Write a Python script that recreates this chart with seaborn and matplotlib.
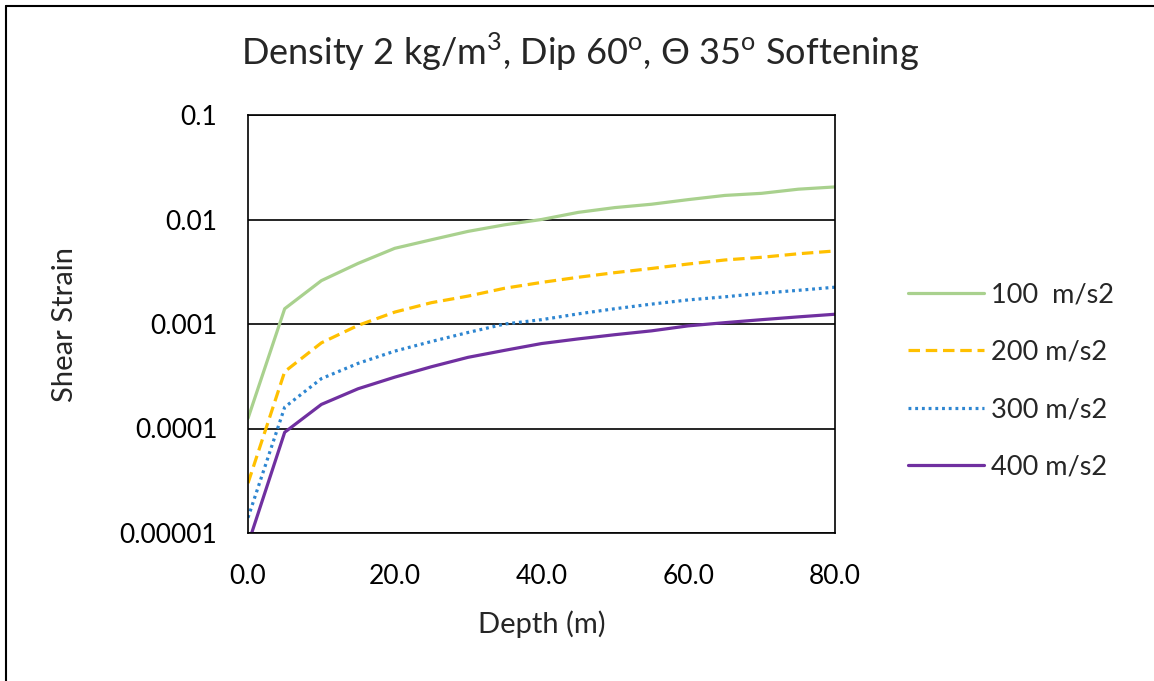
import numpy as np
import pandas as pd
import matplotlib
matplotlib.use("Agg")
import matplotlib.pyplot as plt
import seaborn as sns
from matplotlib.ticker import FixedLocator, FixedFormatter, NullLocator
from matplotlib.lines import Line2D

# Depth samples (m)
depth = [0, 5, 10, 15, 20, 25, 30, 35, 40, 45, 50, 55, 60, 65, 70, 75, 80]

# Shear strain for each acceleration level
strain_100 = [1.25e-4, 1.4e-3, 2.6e-3, 3.8e-3, 5.3e-3, 6.4e-3, 7.7e-3, 8.9e-3, 1.0e-2,
              1.17e-2, 1.3e-2, 1.4e-2, 1.55e-2, 1.7e-2, 1.78e-2, 1.95e-2, 2.05e-2]
strain_200 = [3.0e-5, 3.5e-4, 6.6e-4, 9.7e-4, 1.3e-3, 1.6e-3, 1.85e-3, 2.2e-3, 2.5e-3,
              2.8e-3, 3.1e-3, 3.4e-3, 3.75e-3, 4.1e-3, 4.35e-3, 4.7e-3, 5.0e-3]
strain_300 = [1.4e-5, 1.6e-4, 3.0e-4, 4.2e-4, 5.5e-4, 6.8e-4, 8.3e-4, 1.0e-3, 1.1e-3,
              1.25e-3, 1.4e-3, 1.55e-3, 1.7e-3, 1.82e-3, 1.97e-3, 2.1e-3, 2.25e-3]
strain_400 = [7.8e-6, 9.2e-5, 1.7e-4, 2.4e-4, 3.1e-4, 3.9e-4, 4.8e-4, 5.6e-4, 6.5e-4,
              7.2e-4, 7.9e-4, 8.6e-4, 9.6e-4, 1.03e-3, 1.1e-3, 1.17e-3, 1.24e-3]

series_labels = ["100  m/s2", "200 m/s2", "300 m/s2", "400 m/s2"]
y_ticks = [1e-5, 1e-4, 1e-3, 1e-2, 1e-1]
y_tick_labels = ["0.00001", "0.0001", "0.001", "0.01", "0.1"]
x_ticks = [0, 20, 40, 60, 80]
x_tick_labels = ["0.0", "20.0", "40.0", "60.0", "80.0"]

sns.set_style("white")
plt.rcParams["font.family"] = ["Lato", "DejaVu Sans"]
plt.rcParams["mathtext.fontset"] = "custom"
plt.rcParams["mathtext.rm"] = "Lato"

fig = plt.figure(figsize=(11.54, 6.81), dpi=100)
ax = fig.add_axes([248 / 1154, 1 - 533 / 681, 587 / 1154, 418 / 681])

styles = [
    dict(color="#A9D18E", linestyle="-"),
    dict(color="#FFC000", linestyle=(0, (3.6, 1.8))),
    dict(color="#2E86D1", linestyle=(0, (0.9, 1.2))),
    dict(color="#7030A0", linestyle="-"),
]
all_series = [strain_100, strain_200, strain_300, strain_400]

for vals, lab, st in zip(all_series, series_labels, styles):
    df = pd.DataFrame({"Depth": depth, "Strain": vals})
    sns.lineplot(data=df, x="Depth", y="Strain", ax=ax, color=st["color"],
                 linestyle=st["linestyle"], linewidth=2.3, legend=False)

ax.set_yscale("log")
ax.set_xlim(0, 80)
ax.set_ylim(1e-5, 1e-1)
ax.yaxis.set_major_locator(FixedLocator(y_ticks))
ax.yaxis.set_major_formatter(FixedFormatter(y_tick_labels))
ax.yaxis.set_minor_locator(NullLocator())
ax.xaxis.set_major_locator(FixedLocator(x_ticks))
ax.xaxis.set_major_formatter(FixedFormatter(x_tick_labels))
ax.tick_params(axis="both", length=0, labelsize=19, colors="#000000")
ax.tick_params(axis="y", pad=22)
ax.tick_params(axis="x", pad=22)

ax.yaxis.grid(True, color="black", linewidth=1.2)
ax.set_axisbelow(True)
for sp in ax.spines.values():
    sp.set_color("black")
    sp.set_linewidth(1.2)

ax.set_xlabel("Depth (m)", fontsize=21, labelpad=16)
ax.set_ylabel("Shear Strain", fontsize=21, labelpad=30)

fig.text(580 / 1154, 1 - 52 / 681,
         r"Density 2 kg/m$^{\mathregular{3}}$, Dip 60$^{\mathregular{o}}$, "
         r"Θ 35$^{\mathregular{o}}$ Softening",
         ha="center", va="center", fontsize=26)

handles = [Line2D([], [], color=s["color"], linestyle=s["linestyle"], linewidth=2.3)
           for s in styles]
ax.legend(handles, series_labels, loc="center left",
          bbox_to_anchor=((908 - 248) / 587, (533 - 381) / 418),
          frameon=False, fontsize=19.5, handlelength=2.8, handletextpad=0.25,
          labelspacing=1.2, borderpad=0, borderaxespad=0)

# chart frame (left and top edges)
fig.add_artist(Line2D([6 / 1154, 6 / 1154], [0, 1 - 6 / 681], color="black",
                      linewidth=1.5, transform=fig.transFigure))
fig.add_artist(Line2D([6 / 1154, 1], [1 - 6 / 681, 1 - 6 / 681], color="black",
                      linewidth=1.5, transform=fig.transFigure))

fig.savefig("out.png", dpi=100)
